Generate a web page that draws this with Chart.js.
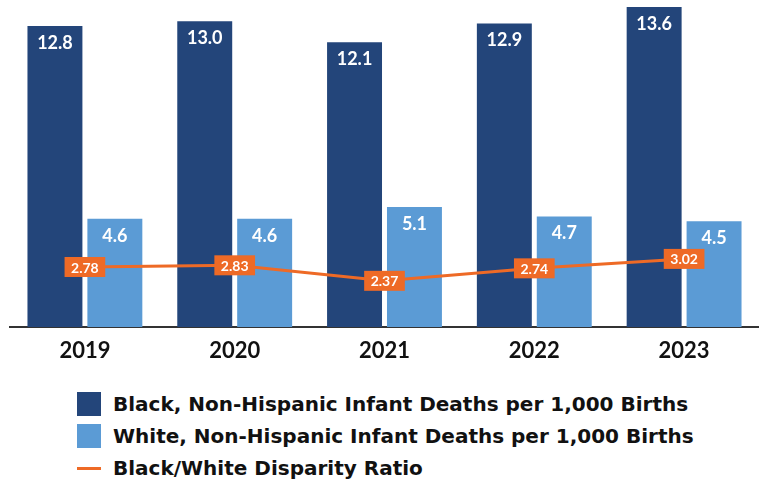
<!DOCTYPE html>
<html>
<head>
<meta charset="utf-8">
<script src="https://cdn.jsdelivr.net/npm/chart.js@4.4.1/dist/chart.umd.min.js"></script>
<style>
  body { margin: 0; background: #fff; width: 759px; height: 481px; overflow: hidden; position: relative; }
  #wrap { position: absolute; left: 0; top: 0; width: 759px; height: 375px; }
  #legend { position: absolute; left: 77px; top: 392px; font-family: "DejaVu Sans", sans-serif; font-weight: bold; font-size: 20px; color: #111; }
  .row { display: flex; align-items: center; height: 24px; margin-bottom: 8px; white-space: nowrap; }
  .swatch { width: 24px; height: 24px; margin-right: 12px; flex: none; }
  .swatch.line { height: 3px; }
</style>
</head>
<body>
<div id="wrap"><canvas id="chart"></canvas></div>
<div id="legend"></div>
<script>
// Values
const years = ["2019", "2020", "2021", "2022", "2023"];
const blackRates = [12.8, 13.0, 12.1, 12.9, 13.6];
const whiteRates = [4.6, 4.6, 5.1, 4.7, 4.5];
const disparityRatio = [2.78, 2.83, 2.37, 2.74, 3.02];

const DARK_BLUE = "#23457a";
const LIGHT_BLUE = "#5b9bd5";
const ORANGE = "#ee6a26";

// Draws the value labels: white numbers in the bars, orange boxes on the line
const valueLabels = {
  id: "valueLabels",
  afterDatasetsDraw(chart) {
    const ctx = chart.ctx;
    ctx.save();
    ctx.textAlign = "center";
    ctx.textBaseline = "middle";
    chart.data.datasets.forEach((ds, i) => {
      const meta = chart.getDatasetMeta(i);
      meta.data.forEach((el, j) => {
        const v = ds.data[j];
        if (ds.type === "line") {
          const txt = v.toFixed(2);
          ctx.font = "bold 14px Lato";
          const w = ctx.measureText(txt).width + 13;
          const h = 20;
          ctx.fillStyle = ORANGE;
          ctx.fillRect(el.x - w / 2, el.y - h / 2, w, h);
          ctx.fillStyle = "#fff";
          ctx.fillText(txt, el.x, el.y + 1);
        } else {
          ctx.font = "bold 18px Lato";
          ctx.fillStyle = "#fff";
          ctx.fillText(v.toFixed(1), el.x, el.y + 17);
        }
      });
    });
    ctx.restore();
  }
};

const chart = new Chart(document.getElementById("chart"), {
  data: {
    labels: years,
    datasets: [
      {
        type: "line",
        label: "Black/White Disparity Ratio",
        data: disparityRatio,
        yAxisID: "y2",
        borderColor: ORANGE,
        backgroundColor: ORANGE,
        borderWidth: 3,
        pointRadius: 0,
        tension: 0,
        order: 0
      },
      {
        type: "bar",
        label: "Black, Non-Hispanic Infant Deaths per 1,000 Births",
        data: blackRates,
        backgroundColor: DARK_BLUE,
        categoryPercentage: 0.8,
        barPercentage: 0.917,
        order: 1
      },
      {
        type: "bar",
        label: "White, Non-Hispanic Infant Deaths per 1,000 Births",
        data: whiteRates,
        backgroundColor: LIGHT_BLUE,
        categoryPercentage: 0.8,
        barPercentage: 0.917,
        order: 1
      }
    ]
  },
  options: {
    responsive: true,
    maintainAspectRatio: false,
    animation: false,
    layout: { padding: { left: 10, right: 0, top: 0, bottom: 0 } },
    plugins: {
      legend: { display: false },
      tooltip: { enabled: false }
    },
    scales: {
      x: {
        grid: { display: false, drawTicks: false },
        border: { display: true, color: "#333", width: 2 },
        ticks: {
          color: "#111",
          padding: 11,
          font: { family: "Lato", weight: "bold", size: 22 }
        },
        afterFit(scale) { scale.height = 48; }
      },
      y: { display: false, min: 0, max: 13.9 },
      y2: { display: false, min: 1.0, max: 10.7 }
    }
  },
  plugins: [valueLabels]
});

// Legend built from the datasets, stacked and left aligned like the original
const legendEl = document.getElementById("legend");
[1, 2, 0].forEach((i) => {
  const ds = chart.data.datasets[i];
  const row = document.createElement("div");
  row.className = "row";
  const sw = document.createElement("span");
  sw.className = ds.type === "line" ? "swatch line" : "swatch";
  sw.style.background = ds.type === "line" ? ds.borderColor : ds.backgroundColor;
  const label = document.createElement("span");
  label.innerText = ds.label;
  row.appendChild(sw);
  row.appendChild(label);
  legendEl.appendChild(row);
});
</script>
</body>
</html>
